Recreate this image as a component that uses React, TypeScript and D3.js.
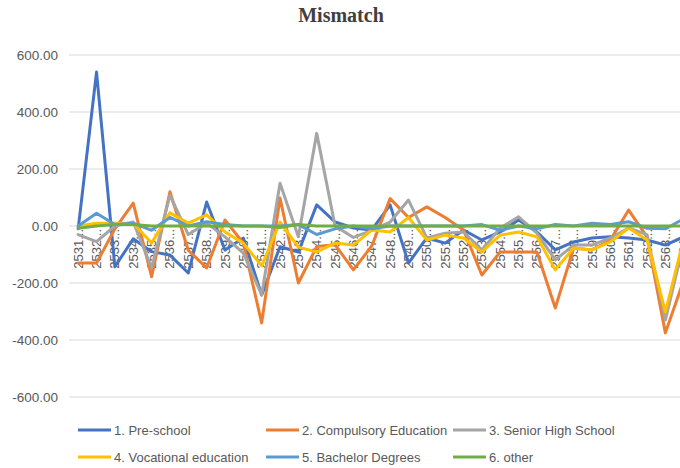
import React, { useEffect, useRef } from 'react';
import * as d3 from 'd3';

const years = ['2531', '2532', '2533', '2534', '2535', '2536', '2537', '2538', '2539', '2540',
    '2541', '2542', '2543', '2544', '2545', '2546', '2547', '2548', '2549', '2550',
    '2551', '2552', '2553', '2554', '2555', '2556', '2557', '2558', '2559', '2560',
    '2561', '2562', '2563', '2564'];

const preSchool = [-10, 540, -143, -45, -90, -102, -165, 84, -84, -42, -242, -73, -91, 74, 14, -7, -14,
    74, -130, -42, -60, -14, -49, -21, 21, -21, -84, -56, -42, -38, -42, -49, -67, -38];
const compulsory = [-130, -130, -10, 80, -178, 120, -85, -147, 21, -60, -340, 98, -200, -72, -66, -154, -70,
    96, 30, 67, 30, -14, -172, -91, -91, -91, -288, -77, -84, -49, 56, -38, -375, -190];
const seniorHigh = [-30, -55, 0, 14, -147, 108, -30, 10, -38, -95, -242, 150, -38, 325, 0, -40, -15,
    14, 91, -42, -25, -21, -84, -7, 32, -25, -119, -67, -67, -42, -7, -30, -330, -60];
const vocational = [0, 10, 10, 10, -60, 46, 10, 39, -21, -60, -140, 14, -74, -91, -60, -67, -14,
    -21, 30, -49, -32, -42, -91, -32, -21, -38, -154, -77, -84, -56, -7, -49, -302, -45];
const bachelor = [0, 45, 5, 10, -15, 30, 0, 15, 5, 0, 0, 0, 5, -30, -10, 0, -10,
    0, 0, 0, 0, 0, 5, -15, 0, -10, 5, 0, 10, 5, 15, -8, -10, 25];
const other = [-8, 0, 5, 5, 0, 0, 0, 0, 0, 0, 0, -5, 5, 0, 0, 0, 0,
    0, 0, 0, 0, 0, 0, 0, 0, 0, 0, 0, 0, 0, 0, 0, 0, 0];

const seriesNames = ['1. Pre-school', '2. Compulsory Education', '3. Senior High School',
    '4. Vocational education', '5. Bachelor Degrees', '6. other'];
const seriesValues = [preSchool, compulsory, seniorHigh, vocational, bachelor, other];
const colors = ['#4472C4', '#ED7D31', '#A5A5A5', '#FFC000', '#5B9BD5', '#70AD47'];
const yTicks = [-600, -400, -200, 0, 200, 400, 600];

const W = 680;
const H = 468;

export default function App() {
    const ref = useRef<SVGSVGElement>(null);

    useEffect(() => {
        const svg = d3.select(ref.current);
        svg.selectAll('*').remove();

        const left = 69;
        const band = 18.35;
        const x = d3.scaleBand<string>()
            .domain(years)
            .range([left, left + band * years.length]);
        const cx = (c: string) => (x(c) as number) + x.bandwidth() / 2;

        const y = d3.scaleLinear()
            .domain([-600, 600])
            .range([397, 55]);

        // title
        svg.append('text')
            .attr('x', 341)
            .attr('y', 22)
            .attr('text-anchor', 'middle')
            .attr('font-family', 'Liberation Serif, serif')
            .attr('font-weight', 'bold')
            .attr('font-size', 20)
            .attr('fill', '#404040')
            .text('Mismatch');

        // gridlines and y labels
        const fmt = d3.format('.2f');
        svg.append('g')
            .selectAll('line')
            .data(yTicks)
            .join('line')
            .attr('x1', left)
            .attr('x2', W)
            .attr('y1', (d) => y(d))
            .attr('y2', (d) => y(d))
            .attr('stroke', '#D9D9D9')
            .attr('stroke-width', 1);

        svg.append('g')
            .selectAll('text')
            .data(yTicks)
            .join('text')
            .attr('x', 58)
            .attr('y', (d) => y(d))
            .attr('dy', '0.35em')
            .attr('text-anchor', 'end')
            .attr('font-family', 'Liberation Sans, Arial, sans-serif')
            .attr('font-size', 13.5)
            .attr('fill', '#595959')
            .text((d) => fmt(d).replace('\u2212', '-'));

        // category labels, rotated
        svg.append('g')
            .selectAll('text')
            .data(years)
            .join('text')
            .attr('transform', (d) => `translate(${cx(d)},${y(0) + 3}) rotate(-90)`)
            .attr('dy', '0.35em')
            .attr('text-anchor', 'end')
            .attr('font-family', 'Liberation Sans, Arial, sans-serif')
            .attr('font-size', 13)
            .attr('fill', '#595959')
            .text((d) => d + '...');

        // lines
        const line = d3.line<number>()
            .x((d, i) => cx(years[i]))
            .y((d) => y(d));

        svg.append('g')
            .selectAll('path')
            .data(seriesValues)
            .join('path')
            .attr('fill', 'none')
            .attr('stroke', (d, i) => colors[i])
            .attr('stroke-width', 3)
            .attr('stroke-linejoin', 'round')
            .attr('stroke-linecap', 'round')
            .attr('d', (d) => line(d));

        // legend
        const legendPos = [[78, 430], [266, 430], [453, 430], [78, 457], [266, 457], [453, 457]];
        const lg = svg.append('g')
            .selectAll('g')
            .data(seriesNames)
            .join('g')
            .attr('transform', (d, i) => `translate(${legendPos[i][0]},${legendPos[i][1]})`);
        lg.append('line')
            .attr('x1', 0)
            .attr('x2', 33)
            .attr('stroke', (d, i) => colors[i])
            .attr('stroke-width', 3);
        lg.append('text')
            .attr('x', 36)
            .attr('dy', '0.35em')
            .attr('font-family', 'Liberation Sans, Arial, sans-serif')
            .attr('font-size', 13)
            .attr('fill', '#595959')
            .text((d) => d);
    }, []);

    return (
        <svg ref={ref} width={W} height={H}
            style={{ position: 'absolute', left: 0, top: 0, background: '#fff' }} />
    );
}
